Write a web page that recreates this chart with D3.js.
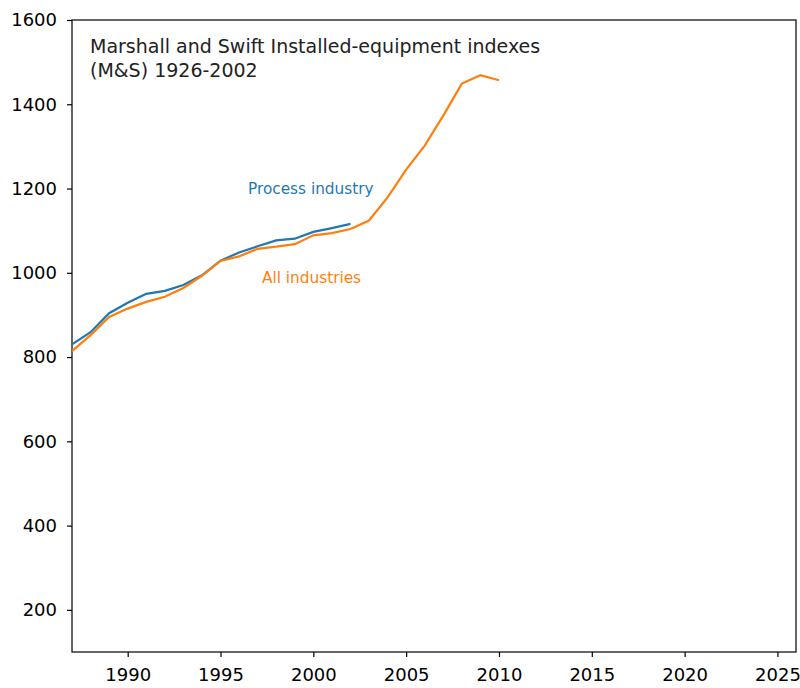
<!DOCTYPE html>
<html>
<head>
<meta charset="utf-8">
<script src="https://cdn.jsdelivr.net/npm/d3@7"></script>
<style>
  body { margin: 0; background: #fff; }
  text { font-family: "DejaVu Sans", sans-serif; }
</style>
</head>
<body>
<svg width="800" height="688"></svg>
<script>
// M&S equipment cost index
var years = [1987, 1988, 1989, 1990, 1991, 1992, 1993, 1994, 1995, 1996, 1997, 1998,
             1999, 2000, 2001, 2002, 2003, 2004, 2005, 2006, 2007, 2008, 2009, 2010];
var allIndustries = [814, 852, 895, 915, 931, 943, 964, 993, 1028, 1039, 1057, 1062,
                     1068, 1089, 1094, 1104, 1124, 1179, 1245, 1302, 1373, 1449, 1469, 1457];
var processIndustry = [830, 859, 904, 929, 950, 957, 971, 994, 1029, 1048, 1063, 1077,
                       1081, 1097, 1106, 1116];
var xTicks = [1990, 1995, 2000, 2005, 2010, 2015, 2020, 2025];
var yTicks = [200, 400, 600, 800, 1000, 1200, 1400, 1600];
var titleLines = ["Marshall and Swift Installed-equipment indexes", "(M&S) 1926-2002"];

var svg = d3.select("svg");
// plot box (can't use "top" as a global name, it's window.top)
var plotL = 72, plotR = 796, plotT = 20, plotB = 652;

var x = d3.scaleLinear().domain([1987, 2026]).range([plotL, plotR]);
var y = d3.scaleLinear().domain([100, 1600]).range([plotB, plotT]);

var xAxis = svg.append("g")
  .attr("transform", "translate(0," + plotB + ")")
  .call(d3.axisBottom(x).tickValues(xTicks).tickFormat(d3.format("d")).tickSize(5).tickPadding(11));
var yAxis = svg.append("g")
  .attr("transform", "translate(" + plotL + ",0)")
  .call(d3.axisLeft(y).tickValues(yTicks).tickFormat(d3.format("d")).tickSize(5).tickPadding(10));
[xAxis, yAxis].forEach(function (g) {
  g.select(".domain").remove();
  g.selectAll("line").attr("stroke", "#000").attr("stroke-width", 1.2);
  g.selectAll("text").attr("fill", "#000").style("font-size", "18px")
    .style("font-family", "DejaVu Sans, sans-serif");
});

// frame
svg.append("rect")
  .attr("x", plotL).attr("y", plotT)
  .attr("width", plotR - plotL).attr("height", plotB - plotT)
  .attr("fill", "none").attr("stroke", "#000").attr("stroke-width", 1.2);

var line = d3.line()
  .x(function (d) { return x(d[0]); })
  .y(function (d) { return y(d[1]); });

svg.append("path")
  .datum(processIndustry.map(function (v, i) { return [years[i], v]; }))
  .attr("d", line)
  .attr("fill", "none").attr("stroke", "#1f77b4").attr("stroke-width", 2.2);

svg.append("path")
  .datum(allIndustries.map(function (v, i) { return [years[i], v]; }))
  .attr("d", line)
  .attr("fill", "none").attr("stroke", "#ff7f0e").attr("stroke-width", 2.2);

svg.append("text")
  .attr("x", 248).attr("y", 194)
  .attr("fill", "#1f77b4").style("font-size", "15.3px")
  .text("Process industry");
svg.append("text")
  .attr("x", 262).attr("y", 283)
  .attr("fill", "#ff7f0e").style("font-size", "15.3px")
  .text("All industries");

svg.selectAll(".title")
  .data(titleLines)
  .enter().append("text")
  .attr("class", "title")
  .attr("x", 90)
  .attr("y", function (d, i) { return 53 + i * 24; })
  .attr("fill", "#222")
  .style("font-size", "19px")
  .text(function (d) { return d; });
</script>
</body>
</html>
